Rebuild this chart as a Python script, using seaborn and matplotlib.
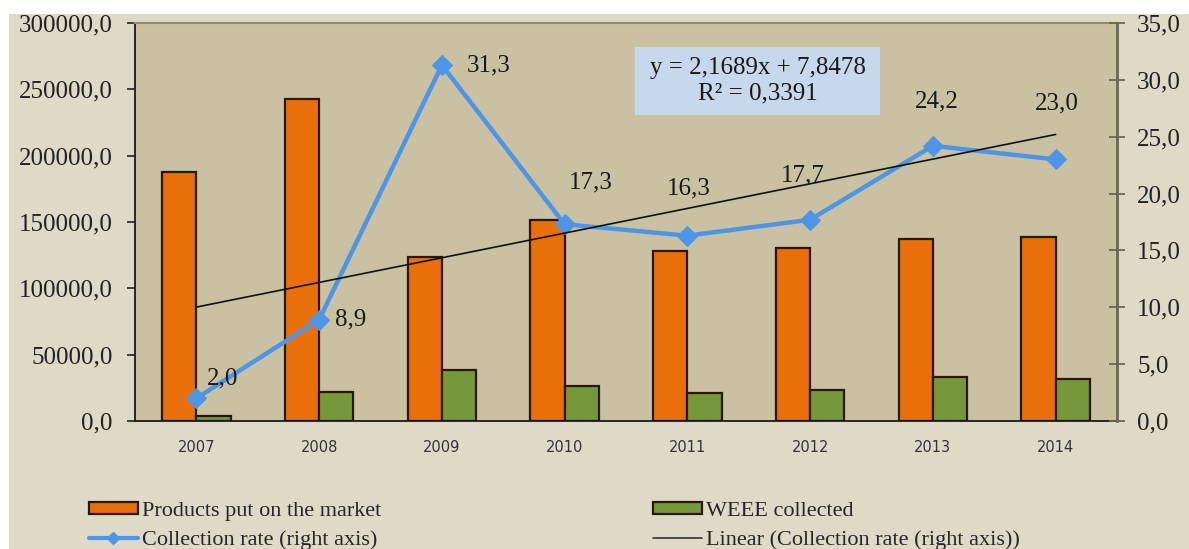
import numpy as np
import pandas as pd
import matplotlib
matplotlib.use("Agg")
import matplotlib.pyplot as plt
import seaborn as sns
from matplotlib.patches import Patch, Rectangle
from matplotlib.lines import Line2D
from matplotlib.ticker import FuncFormatter, FixedLocator

# ---- data -------------------------------------------------------------
years = ["2007", "2008", "2009", "2010", "2011", "2012", "2013", "2014"]
products_on_market = [188000, 243000, 123500, 151500, 128000, 130300, 137000, 138500]
weee_collected = [3800, 21700, 38700, 26300, 20900, 23100, 33200, 31900]
collection_rate = [2.0, 8.9, 31.3, 17.3, 16.3, 17.7, 24.2, 23.0]
rate_labels = ["2,0", "8,9", "31,3", "17,3", "16,3", "17,7", "24,2", "23,0"]
trend_slope = 2.1689
trend_intercept = 7.8478
r_squared = 0.3391

series_names = ["Products put on the market", "WEEE collected"]
rate_name = "Collection rate (right axis)"
trend_name = "Linear (Collection rate (right axis))"

# ---- style ------------------------------------------------------------
ORANGE = "#E96F0B"
GREEN = "#76973A"
EDGE = "#2A1806"
BLUE = "#4E95E8"
PLOT_BG = "#C9C1A1"
FIG_BG = "#DFDAC7"
BOX_BG = "#C7D7EC"
SERIF = "Liberation Serif"

sns.set_style("white")
plt.rcParams["font.family"] = [SERIF, "DejaVu Sans"]

W, H = 1189, 549
fig = plt.figure(figsize=(W / 100, H / 100), dpi=100)
fig.patch.set_facecolor("white")
fig.add_artist(Rectangle((9 / W, 0), 1, (H - 14) / H, transform=fig.transFigure,
                         facecolor=FIG_BG, edgecolor="none", zorder=-10))

ax = fig.add_axes([135 / W, (H - 421) / H, (1117 - 135) / W, (421 - 23) / H])
ax.set_facecolor(PLOT_BG)

# ---- bars -------------------------------------------------------------
bars = pd.DataFrame({
    "year": years * 2,
    "series": [series_names[0]] * len(years) + [series_names[1]] * len(years),
    "value": products_on_market + weee_collected,
})
sns.barplot(data=bars, x="year", y="value", hue="series", order=years,
            hue_order=series_names, palette=[ORANGE, GREEN], width=0.56,
            gap=0, edgecolor=EDGE, linewidth=1.6, saturation=1,
            legend=False, ax=ax, zorder=2)

ax.set_xlim(-0.5, len(years) - 0.5)
ax.set_ylim(0, 300000)
ax.set_yticks(np.arange(0, 300001, 50000))
ax.yaxis.set_major_formatter(FuncFormatter(lambda v, p: f"{v:.1f}".replace(".", ",")))
ax.set_xlabel("")
ax.set_ylabel("")
ax.xaxis.set_minor_locator(FixedLocator(np.arange(0.5, len(years) - 0.5, 1)))
ax.tick_params(axis="x", which="major", length=0, pad=14, labelsize=10.5,
               labelcolor="#333333")
for lab in ax.get_xticklabels():
    lab.set_fontfamily("DejaVu Sans")
ax.tick_params(axis="x", which="minor", direction="inout", length=11, width=1,
               color="#222222")
ax.tick_params(axis="y", direction="out", length=6, width=1.2, pad=10,
               labelsize=18, labelcolor="#222222", color="#222222", left=True)
for side in ["left", "bottom"]:
    ax.spines[side].set_color("#1a1a1a")
    ax.spines[side].set_linewidth(1.3)
ax.spines["top"].set_color("#8f8a70")
ax.spines["top"].set_linewidth(1.5)
ax.spines["right"].set_visible(False)

# ---- collection rate on the right axis -------------------------------
ax2 = ax.twinx()
ax2.set_ylim(0, 35)
idx = np.arange(len(years))
sns.lineplot(x=idx, y=collection_rate, ax=ax2, color=BLUE, linewidth=3.2,
             marker="D", markersize=10, markeredgecolor=BLUE, zorder=3)

trend_y = trend_slope * (idx + 1) + trend_intercept
ax2.plot(idx, trend_y, color="#111111", linewidth=1.2, zorder=4)

label_offsets = [(19, 14), (23, 0), (34, 0), (19, 30), (1, 34), (-5, 32), (3, 32), (1, 40)]
for i, (val, txt) in enumerate(zip(collection_rate, rate_labels)):
    dx, dy = label_offsets[i]
    ax2.annotate(txt, (i, val), xytext=(dx, dy), textcoords="offset points",
                 ha="center", va="center", fontsize=18, color="#1a1a1a",
                 fontfamily=SERIF, zorder=5)

ax2.set_yticks(np.arange(0, 35.1, 5))
ax2.yaxis.set_major_formatter(FuncFormatter(lambda v, p: f"{v:.1f}".replace(".", ",")))
ax2.tick_params(axis="y", direction="inout", length=11, width=1.3, pad=9,
                labelsize=18, labelcolor="#222222", color="#6b6650")
ax2.spines["right"].set_color("#6b6650")
ax2.spines["right"].set_linewidth(2)
for side in ["left", "top", "bottom"]:
    ax2.spines[side].set_visible(False)

# ---- regression equation box -----------------------------------------
box_x0, box_x1 = (635 - 135) / 982, (880 - 135) / 982
box_y0, box_y1 = (421 - 115) / 398, (421 - 47) / 398
ax2.add_patch(Rectangle((box_x0, box_y0), box_x1 - box_x0, box_y1 - box_y0,
                        transform=ax2.transAxes, facecolor=BOX_BG,
                        edgecolor="none", zorder=6))
cx = (box_x0 + box_x1) / 2
eq1 = f"y = {trend_slope:.4f}x + {trend_intercept:.4f}".replace(".", ",")
eq2 = f"R² = {r_squared:.4f}".replace(".", ",")
ax2.text(cx, (421 - 68) / 398, eq1, transform=ax2.transAxes, ha="center",
         va="center", fontsize=18, color="#1a1a1a", zorder=7)
ax2.text(cx, (421 - 93) / 398, eq2, transform=ax2.transAxes, ha="center",
         va="center", fontsize=18, color="#1a1a1a", zorder=7)

# ---- legend -----------------------------------------------------------
handles = [
    Patch(facecolor=ORANGE, edgecolor=EDGE, linewidth=1.6),
    Line2D([], [], color=BLUE, linewidth=3, marker="D", markersize=6),
    Patch(facecolor=GREEN, edgecolor=EDGE, linewidth=1.6),
    Line2D([], [], color="#333333", linewidth=1.2),
]
labels = [series_names[0], rate_name, series_names[1], trend_name]
fig.legend(handles, labels, loc="upper left", bbox_to_anchor=(89 / W, 1 - 502 / H),
           ncol=2, frameon=False, prop={"family": SERIF, "size": 16},
           handlelength=2.2, handleheight=0.45, handletextpad=0.2,
           columnspacing=12.2, labelspacing=0.4, borderpad=0, borderaxespad=0)

fig.savefig("out.png", dpi=100)
